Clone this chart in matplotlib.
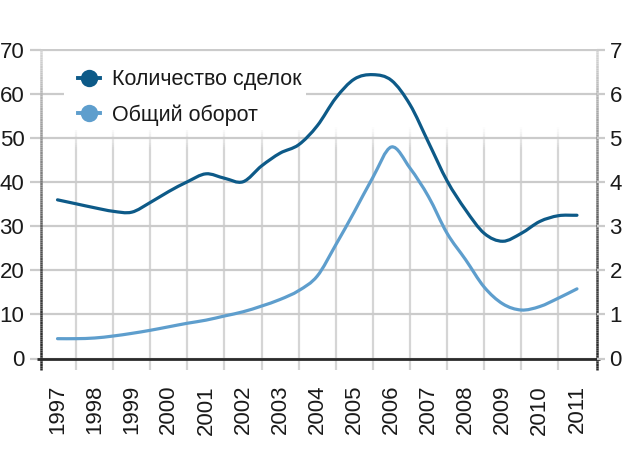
import numpy as np
import matplotlib
matplotlib.use("Agg")
import matplotlib.pyplot as plt
from matplotlib.path import Path
from matplotlib.patches import PathPatch
from matplotlib.lines import Line2D
from matplotlib.collections import LineCollection
from matplotlib.legend_handler import HandlerLine2D

plt.rcParams['font.family'] = ['Liberation Sans', 'DejaVu Sans']

# ---- data ----
years = [1997, 1998, 1999, 2000, 2001, 2002, 2003, 2004, 2005,
         2006, 2007, 2008, 2009, 2010, 2011]
# half-year sample positions
t = [1997.0, 1997.5, 1998.0, 1998.5, 1999.0, 1999.5, 2000.0, 2000.5,
     2001.0, 2001.5, 2002.0, 2002.5, 2003.0, 2003.5, 2004.0, 2004.5,
     2005.0, 2005.5, 2006.0, 2006.5, 2007.0, 2007.5, 2008.0, 2008.5,
     2009.0, 2009.5, 2010.0, 2010.5, 2011.0]
deals = [36.0, 35.1, 34.2, 33.4, 33.2, 35.4, 37.9, 40.1, 41.9, 40.9,
         40.1, 43.7, 46.6, 48.5, 52.8, 59.1, 63.4, 64.4, 63.1, 57.6,
         49.0, 40.3, 33.7, 28.4, 26.6, 28.4, 31.1, 32.4, 32.5]
turnover = [0.45, 0.45, 0.465, 0.51, 0.57, 0.64, 0.72, 0.80, 0.87, 0.965,
            1.06, 1.19, 1.34, 1.54, 1.87, 2.58, 3.33, 4.11, 4.80, 4.32,
            3.67, 2.84, 2.24, 1.62, 1.24, 1.10, 1.18, 1.37, 1.58]
left_ticks = [0, 10, 20, 30, 40, 50, 60, 70]
right_ticks = [0, 1, 2, 3, 4, 5, 6, 7]
labels = ["Количество сделок", "Общий оборот"]

DARK = '#0d5a88'
LIGHT = '#5e9ecd'
GRID = '#cbcbcb'
VGRID = '#d5d5d5'
TXT = '#1a1a1a'


def smooth_path(x, y):
    x = np.asarray(x, float)
    y = np.asarray(y, float)
    mx = np.gradient(x)
    my = np.gradient(y)
    verts = [(x[0], y[0])]
    codes = [Path.MOVETO]
    for i in range(len(x) - 1):
        verts += [(x[i] + mx[i] / 3, y[i] + my[i] / 3),
                  (x[i + 1] - mx[i + 1] / 3, y[i + 1] - my[i + 1] / 3),
                  (x[i + 1], y[i + 1])]
        codes += [Path.CURVE4] * 3
    return Path(verts, codes)


W, H = 623, 466
fig = plt.figure(figsize=(W / 100, H / 100), dpi=100)
ax = fig.add_axes([41 / W, 1 - 358.5 / H, (597 - 41) / W, (358.5 - 49.1) / H])
ax.set_xlim(years[0] - 0.445, years[-1] + 0.54)
ax.set_ylim(0, 70.2)
for s in ax.spines.values():
    s.set_visible(False)

# horizontal grid
ax.set_yticks(left_ticks)
ax.set_yticklabels([str(v) for v in left_ticks])
ax.yaxis.grid(True, color=GRID, lw=1.6)
ax.tick_params(axis='y', length=8, width=1.6, color=GRID, pad=4,
               labelsize=16, labelcolor=TXT)
ax.set_axisbelow(True)

# x ticks
ax.set_xticks(years)
ax.set_xticklabels([str(y) for y in years], rotation=90, va='top', ha='center')
ax.tick_params(axis='x', which='major', length=0, pad=19, labelsize=16,
               labelcolor=TXT)
ax.set_xticks([y + 0.5 for y in years[:-1]], minor=True)
ax.tick_params(axis='x', which='minor', length=8, width=1.6, color=VGRID)

# faded vertical gridlines
segs, cols = [], []
ys = np.linspace(0, 53, 107)
for b in [y + 0.5 for y in years[:-1]]:
    for a0, a1 in zip(ys[:-1], ys[1:]):
        m = (a0 + a1) / 2
        alpha = np.clip((52.5 - m) / 5.0, 0, 1)
        segs.append([(b, a0), (b, a1)])
        cols.append((0.835, 0.835, 0.835, alpha))
ax.add_collection(LineCollection(segs, colors=cols, linewidths=1.6, zorder=0.5))

# spines with gradient
sp_segs, sp_cols = [], []
ys2 = np.linspace(-2.6, 70, 146)
for xa in (0, 1):
    for a0, a1 in zip(ys2[:-1], ys2[1:]):
        m = max((a0 + a1) / 2, 0)
        g = 0.16 + 0.68 * (m / 70) ** 1.4
        sp_segs.append([(xa, a0), (xa, a1)])
        sp_cols.append((g, g, g, 1))
ax.add_collection(LineCollection(sp_segs, colors=sp_cols, linewidths=1.8,
                                 transform=ax.get_yaxis_transform(),
                                 clip_on=False, zorder=5))
ax.plot([-0.008, 1.006], [0, 0], color='#2b2b2b', lw=2.0,
        transform=ax.get_yaxis_transform(), clip_on=False, zorder=5,
        solid_capstyle='butt')

# right axis
ax2 = ax.twinx()
ax2.set_ylim(0, 7.02)
for s in ax2.spines.values():
    s.set_visible(False)
ax2.set_yticks(right_ticks)
ax2.set_yticklabels([str(v) for v in right_ticks])
ax2.tick_params(axis='y', length=6, width=1.6, color=GRID, pad=3,
                labelsize=16, labelcolor=TXT)

# series (drawn on the top axes so they sit above the legend box)
ax2.add_patch(PathPatch(smooth_path(t, deals), fill=False, edgecolor=DARK,
                        lw=2.3, capstyle='round', joinstyle='round',
                        transform=ax.transData, zorder=12))
ax2.add_patch(PathPatch(smooth_path(t, turnover), fill=False, edgecolor=LIGHT,
                        lw=2.3, capstyle='round', joinstyle='round',
                        zorder=12))


class LeftMarkerHandler(HandlerLine2D):
    def get_xdata(self, legend, xdescent, ydescent, width, height, fontsize):
        x0 = -xdescent
        xm = x0 + 0.3 * width
        return np.array([xm, x0 + width]), np.array([xm])


handles = [Line2D([0], [0], color=DARK, lw=2.8, marker='o', markersize=12.5,
                  markeredgewidth=0),
           Line2D([0], [0], color=LIGHT, lw=2.8, marker='o', markersize=12.5,
                  markeredgewidth=0)]
leg = ax2.legend(handles, labels, loc='upper left',
                 bbox_to_anchor=(64 / W, 1 - 65 / H),
                 bbox_transform=fig.transFigure, borderaxespad=0,
                 frameon=True, fancybox=False, framealpha=1,
                 edgecolor='none', facecolor='white', fontsize=15.5,
                 handlelength=1.45, handletextpad=0.6, labelspacing=0.66,
                 borderpad=0.2,
                 handler_map={Line2D: LeftMarkerHandler(numpoints=1)})
for txt in leg.get_texts():
    txt.set_color(TXT)
leg.set_zorder(10)

fig.savefig('out.png', dpi=100, facecolor='white')
